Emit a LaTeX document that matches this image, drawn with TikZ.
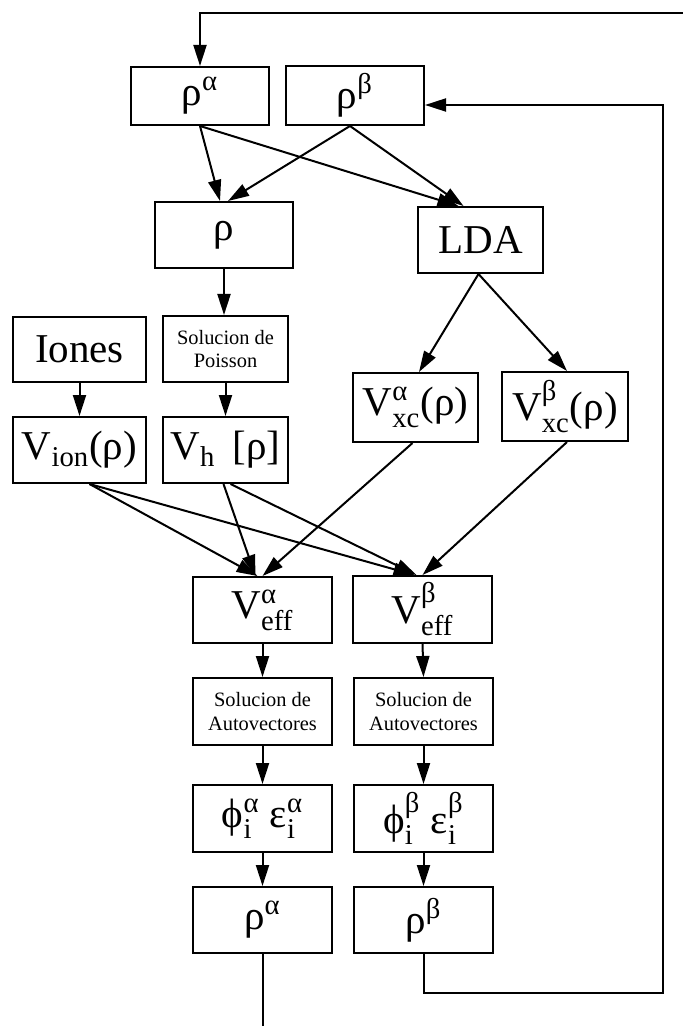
\documentclass[tikz,border=0pt]{standalone}
\usepackage{amsmath}
\usepackage{fontspec}
\setmainfont{Liberation Serif}
\usetikzlibrary{arrows.meta,calc}
\tikzset{
  box/.style={draw, line width=1pt, inner sep=0pt, align=center, font=\fontsize{20.5}{24}\selectfont},
  smallbox/.style={box, font=\fontsize{10.2}{11.8}\selectfont},
  arr/.style={line width=1pt, -{Triangle[length=10.5pt,width=6.5pt]}},
  ln/.style={line width=1pt},
}
\begin{document}
\begin{tikzpicture}[x=0.5pt,y=-0.5pt]
\useasboundingbox (0,0) rectangle (683,1026);
% top row
\node[box, minimum width=69pt, minimum height=29pt] (ra1) at (200,96) {ρ$^{\text{α}}$};
\node[box, minimum width=69pt, minimum height=29.5pt] (rb1) at (355,95.5) {ρ$^{\text{β}}$};
% second row
\node[box, minimum width=69pt, minimum height=33pt] (rho) at (224,235) {ρ};
\node[box, minimum width=62.5pt, minimum height=33pt] (lda) at (480.5,240) {LDA};
% third row
\node[box, minimum width=66.5pt, minimum height=32.5pt] (iones) at (79.5,349.5) {Iones};
\node[smallbox, minimum width=62.5pt, minimum height=33pt] (poisson) at (225.5,349) {Solucion de\\Poisson};
\node[box, minimum width=62.5pt, minimum height=34.5pt] (vxca) at (415.5,407.5) {V$^{\text{α}}_{\text{xc}\vphantom{\text{l}}}$(ρ)};
\node[box, minimum width=63pt, minimum height=34.5pt] (vxcb) at (565,406.5) {V$^{\text{β}}_{\text{xc}\vphantom{\text{l}}}$(ρ)};
% fourth row
\node[box, minimum width=66.5pt, minimum height=33pt] (vion) at (79.5,450) {V$_{\text{ion}}$(ρ)};
\node[box, minimum width=62.5pt, minimum height=33pt] (vh) at (225.5,450) {V$_{\text{h}}$\ \,[ρ]};
% columns
\node[box, minimum width=69.5pt, minimum height=33pt] (veffa) at (262.5,610) {V$^{\text{α}}_{\text{eff}}$};
\node[box, minimum width=69.5pt, minimum height=33.5pt] (veffb) at (422.5,609.5) {V$^{\text{β}}_{\text{eff}}$};
\node[smallbox, minimum width=69.5pt, minimum height=33.5pt] (sola) at (262.5,711.5) {Solucion de\\Autovectores};
\node[smallbox, minimum width=69.5pt, minimum height=33.5pt] (solb) at (423.5,711.5) {Solucion de\\Autovectores};
\node[box, minimum width=69.5pt, minimum height=33.5pt] (phia) at (262.5,818.5) {ϕ$^{\text{α}}_{\text{i}}$\ ε$^{\text{α}}_{\text{i}}$};
\node[box, minimum width=69.5pt, minimum height=33.5pt] (phib) at (423.5,818.5) {ϕ$^{\text{β}}_{\text{i}}$\ ε$^{\text{β}}_{\text{i}}$};
\node[box, minimum width=69.5pt, minimum height=33pt] (ra2) at (262.5,920) {ρ$^{\text{α}}$};
\node[box, minimum width=69.5pt, minimum height=33pt] (rb2) at (423.5,920) {ρ$^{\text{β}}$};
% coordinates
\coordinate (tr) at (683,13);
\coordinate (bot) at (262.5,1026);
\coordinate (fr) at (663,993);
% connectors
\draw[arr] (tr) -| (ra1.north);
\draw[arr] (ra1.south) -- ($(rho.north)+(-4,0)$);
\draw[arr] (ra1.south) -- ($(lda.north)+(-22,0)$);
\draw[arr] ($(rb1.south)+(-5,0)$) -- ($(rho.north)+(4,0)$);
\draw[arr] ($(rb1.south)+(-5,0)$) -- ($(lda.north)+(-17,0)$);
\draw[arr] (rho.south) -- (rho.south |- poisson.north);
\draw[arr] (poisson.south) -- (vh.north);
\draw[arr] (iones.south) -- (vion.north);
\draw[arr] ($(lda.south)+(-2,0)$) -- ($(vxca.north)+(3.5,0)$);
\draw[arr] ($(lda.south)+(-2,0)$) -- ($(vxcb.north)+(2,0)$);
\draw[arr] ($(vion.south)+(10,0)$) -- ($(veffa.north)+(-5,0)$);
\draw[arr] ($(vion.south)+(10,0)$) -- ($(veffb.north)+(-8,0)$);
\draw[arr] ($(vh.south)+(-2,0)$) -- ($(veffa.north)+(-7,0)$);
\draw[arr] ($(vh.south)+(5,0)$) -- ($(veffb.north)+(-6,0)$);
\draw[arr] ($(vxca.south)+(-3,0)$) -- (veffa.north);
\draw[arr] ($(vxcb.south)+(2,0)$) -- (veffb.north);
\draw[arr] (veffa.south) -- (sola.north);
\draw[arr] (veffb.south) -- (solb.north);
\draw[arr] (sola.south) -- (phia.north);
\draw[arr] (solb.south) -- (phib.north);
\draw[arr] (phia.south) -- (ra2.north);
\draw[arr] (phib.south) -- (rb2.north);
\draw[ln] (ra2.south) -- (bot);
\draw[arr] (rb2.south) |- (fr) |- ($(rb1.east)+(0,9.5)$);
\end{tikzpicture}
\end{document}
